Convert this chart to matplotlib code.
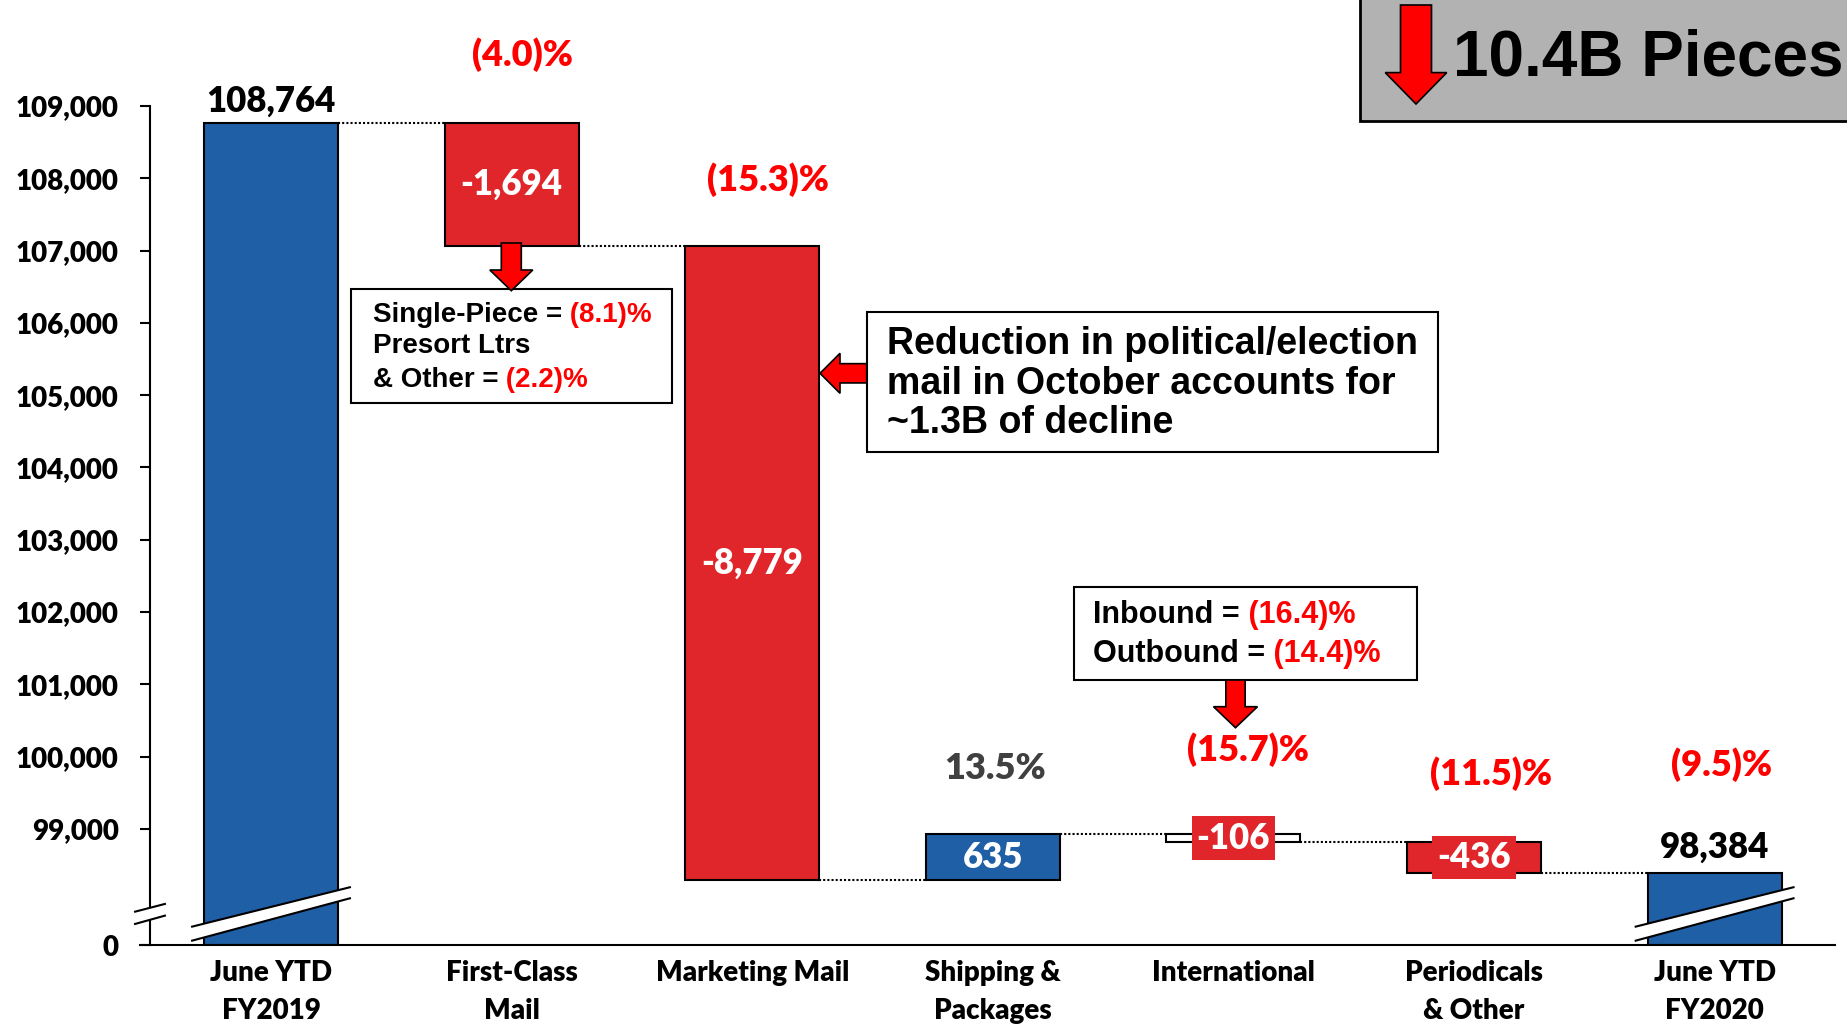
import matplotlib
matplotlib.use('Agg')
import matplotlib.pyplot as plt
import numpy as np
from matplotlib.patches import Polygon, Rectangle

# volume in millions of pieces
categories = ['June YTD\nFY2019', 'First-Class\nMail', 'Marketing Mail',
              'Shipping &\nPackages', 'International', 'Periodicals\n& Other',
              'June YTD\nFY2020']
start_total = 108764
changes = [-1694, -8779, 635, -106, -436]
end_total = 98384
value_labels = ['108,764', '-1,694', '-8,779', '635', '-106', '-436', '98,384']
pct_labels = ['(4.0)%', '(15.3)%', '13.5%', '(15.7)%', '(11.5)%', '(9.5)%']
pct_colors = ['#FF0000', '#FF0000', '#404040', '#FF0000', '#FF0000', '#FF0000']
y_ticks = list(range(99000, 110000, 1000))

W, H = 1847, 1027
BLUE = '#1F5FA6'
RED = '#E0262A'
ARROW_RED = '#FF0000'
CHART_FONT = 'Lato'
CHART_WEIGHT = 'heavy'
BOX_FONT = 'Liberation Sans'

floor = 97395  # where the broken axis meets the "0" tick


def fx(x):
    return x / W


def fy(y):
    return 1 - y / H


fig = plt.figure(figsize=(W / 100, H / 100), dpi=100)
ax = fig.add_axes([fx(140), fy(945), (1835 - 140) / W, 945 / H])
ax.set_xlim(-0.5445, 6.5004)
ax.set_ylim(floor, 110466)

x = np.arange(len(categories))
running = start_total + np.cumsum([0] + changes)
bottoms = [floor] + list(np.minimum(running[:-1], running[1:])) + [floor]
heights = [start_total - floor] + [abs(c) for c in changes] + [end_total - floor]
bar_colors = [BLUE, RED, RED, BLUE, 'white', RED, BLUE]
bw = 0.557
ax.bar(x, heights, bottom=bottoms, width=bw, color=bar_colors,
       edgecolor='black', linewidth=1.5, zorder=2)

# dotted connectors
for i, level in enumerate(running):
    ax.plot([i + bw / 2, i + 1 - bw / 2], [level, level], color='black',
            lw=1.5, linestyle=(0, (1, 1)), zorder=1)

# value labels
ax.annotate(value_labels[0], (0, start_total), xytext=(0, 4), textcoords='offset points',
            ha='center', va='bottom', fontsize=25, fontweight=CHART_WEIGHT, family=CHART_FONT)
ax.annotate(value_labels[-1], (6, end_total), xytext=(0, 7), textcoords='offset points',
            ha='center', va='bottom', fontsize=25, fontweight=CHART_WEIGHT, family=CHART_FONT)
for i in range(1, 6):
    mid = bottoms[i] + heights[i] / 2
    box = None
    if heights[i] < 600:
        box = dict(boxstyle='square,pad=0.15', fc=RED, ec='none')
    ax.text(i, mid, value_labels[i], ha='center', va='center', color='white',
            fontsize=25, fontweight=CHART_WEIGHT, family=CHART_FONT, bbox=box, zorder=4)

# percent labels
pct_pos = [(1.046, 109705), (2.064, 107976), (3.01, 99830),
           (4.06, 100093), (5.07, 99761), (6.03, 99892)]
for (px_, py_), s, c in zip(pct_pos, pct_labels, pct_colors):
    ax.text(px_, py_, s, ha='center', va='center', color=c,
            fontsize=26, fontweight=CHART_WEIGHT, family=CHART_FONT)

# axes styling
for s in ['top', 'right']:
    ax.spines[s].set_visible(False)
ax.spines['left'].set_position(('data', -0.503))
ax.spines['left'].set_bounds(floor, 109000)
ax.spines['left'].set_linewidth(1.5)
ax.spines['bottom'].set_linewidth(1.5)
ax.set_yticks([floor] + y_ticks, ['0'] + [f'{v:,}' for v in y_ticks])
ax.set_xticks(x, categories)
ax.tick_params(axis='y', length=7.5, width=1.5, pad=15, labelsize=20)
ax.tick_params(axis='x', length=0, pad=11, labelsize=20)
for lab in ax.get_yticklabels() + ax.get_xticklabels():
    lab.set_fontfamily(CHART_FONT)
    lab.set_fontweight(CHART_WEIGHT)
for lab in ax.get_xticklabels():
    lab.set_linespacing(1.55)

# axis break on y-axis
ax.add_patch(Polygon([(-0.565, 97856), (-0.441, 97963), (-0.441, 97801), (-0.565, 97686)],
                     closed=True, fc='white', ec='none', clip_on=False, zorder=3))
ax.plot([-0.565, -0.441], [97856, 97963], color='black', lw=1.5, clip_on=False, zorder=4)
ax.plot([-0.565, -0.441], [97686, 97801], color='black', lw=1.5, clip_on=False, zorder=4)

# breaks across the two total bars
for i in (0, 6):
    ax.add_patch(Polygon([(i - 0.328, 97649), (i + 0.328, 98194), (i + 0.328, 98041), (i - 0.328, 97455)],
                         closed=True, fc='white', ec='none', zorder=3))
    ax.plot([i - 0.328, i + 0.328], [97649, 98194], color='black', lw=1.5, zorder=4)
    ax.plot([i - 0.328, i + 0.328], [97455, 98041], color='black', lw=1.5, zorder=4)


def rect(x0, y0, x1, y1, fc='white', lw=1.5):
    ax.add_patch(Rectangle((fx(x0), fy(y1)), (x1 - x0) / W, (y1 - y0) / H,
                           transform=fig.transFigure, fc=fc, ec='black', lw=lw,
                           clip_on=False, zorder=5))


def down_arrow(cx, top, tip, shaft_w, head_w, head_len):
    pts = [(cx - shaft_w / 2, top), (cx + shaft_w / 2, top),
           (cx + shaft_w / 2, tip - head_len), (cx + head_w / 2, tip - head_len),
           (cx, tip), (cx - head_w / 2, tip - head_len), (cx - shaft_w / 2, tip - head_len)]
    ax.add_patch(Polygon([(fx(a), fy(b)) for a, b in pts], closed=True,
                         transform=fig.transFigure, fc=ARROW_RED, ec='black', lw=1.2,
                         clip_on=False, zorder=6))


def left_arrow(tip_x, cy, end_x, shaft_h, head_h, head_len):
    pts = [(end_x, cy - shaft_h / 2), (tip_x + head_len, cy - shaft_h / 2),
           (tip_x + head_len, cy - head_h / 2), (tip_x, cy),
           (tip_x + head_len, cy + head_h / 2), (tip_x + head_len, cy + shaft_h / 2),
           (end_x, cy + shaft_h / 2)]
    ax.add_patch(Polygon([(fx(a), fy(b)) for a, b in pts], closed=True,
                         transform=fig.transFigure, fc=ARROW_RED, ec='black', lw=1.2,
                         clip_on=False, zorder=6))


def rich_line(x0, y0, parts, size):
    t = ax.text(fx(x0), fy(y0), parts[0][0], transform=fig.transFigure, color=parts[0][1],
                fontsize=size, fontweight='bold', family=BOX_FONT, va='baseline',
                ha='left', zorder=7, clip_on=False)
    for s, c in parts[1:]:
        t = ax.annotate(s, xy=(1, 0), xycoords=t, va='bottom', ha='left', color=c,
                        fontsize=size, fontweight='bold', family=BOX_FONT, zorder=7)


# First-Class breakdown
rect(351, 289.3, 671.7, 402.7)
down_arrow(511.3, 243, 290.7, 20, 43, 20.7)
rich_line(372.7, 321.7, [('Single-Piece =', 'black'), (' (8.1)%', ARROW_RED)], 20)
rich_line(372.7, 353, [('Presort Ltrs', 'black')], 20)
rich_line(372.7, 386.7, [('& Other =', 'black'), (' (2.2)%', ARROW_RED)], 20)

# Marketing Mail note
rect(866.7, 312, 1438, 452)
left_arrow(820, 373.3, 866.7, 19.3, 40, 20)
rich_line(887, 353.5, [('Reduction in political/election', 'black')], 27)
rich_line(887, 393.5, [('mail in October accounts for', 'black')], 27)
rich_line(887, 432.5, [('~1.3B of decline', 'black')], 27)

# International breakdown
rect(1074, 586.7, 1417, 680)
down_arrow(1235.5, 680, 727.7, 19.3, 44, 21)
rich_line(1093.3, 623.3, [('Inbound =', 'black'), (' (16.4)%', ARROW_RED)], 22)
rich_line(1093.3, 661.7, [('Outbound =', 'black'), (' (14.4)%', ARROW_RED)], 22)

# headline box
rect(1360, -10, 1900, 121, fc='#B2B2B2', lw=2)
down_arrow(1416, 5, 104, 31, 61.5, 31.4)
rich_line(1452.8, 75, [('10.4B Pieces', 'black')], 46)

fig.savefig('out.png', dpi=100)
